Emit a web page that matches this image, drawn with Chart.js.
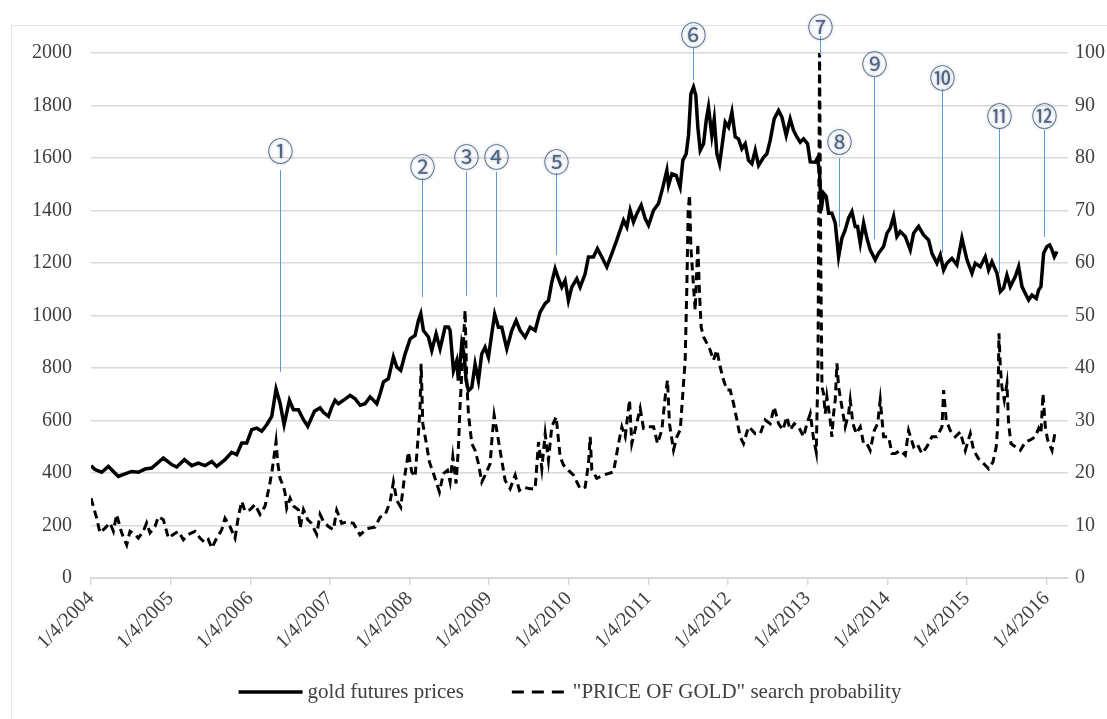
<!DOCTYPE html>
<html>
<head>
<meta charset="utf-8">
<script src="https://cdn.jsdelivr.net/npm/chart.js@4.4.1/dist/chart.umd.min.js"></script>
<style>
  html, body { margin: 0; padding: 0; background: #ffffff; }
  #wrap { position: relative; width: 1107px; height: 719px; }
</style>
</head>
<body>
<div id="wrap"><canvas id="c" width="1107" height="719"></canvas></div>
<script>
// ---------- DATA (x = years since 1/4/2004) ----------
const yearTickLabels = ["1/4/2004","1/4/2005","1/4/2006","1/4/2007","1/4/2008","1/4/2009","1/4/2010","1/4/2011","1/4/2012","1/4/2013","1/4/2014","1/4/2015","1/4/2016"];

const goldT = [
0.000,0.050,0.134,0.218,0.343,0.427,0.511,0.595,0.678,0.762,0.909,1.013,1.076,1.173,1.265,1.348,1.432,1.516,1.579,1.683,
1.767,1.830,1.893,1.956,2.018,2.081,2.144,2.207,2.270,2.324,2.374,2.425,2.492,2.542,2.605,2.668,2.722,2.806,2.877,2.919,
2.982,3.023,3.065,3.107,3.170,3.254,3.317,3.380,3.442,3.505,3.547,3.589,3.631,3.673,3.735,3.798,3.840,3.890,3.945,4.008,
4.070,4.112,4.142,4.175,4.238,4.280,4.334,
4.384,4.447,4.489,4.510,4.552,4.593,4.614,4.656,4.685,4.711,4.740,4.782,4.824,4.866,4.907,4.949,4.991,5.033,5.070,5.117,
5.159,5.222,5.284,5.339,5.389,5.452,5.515,5.578,5.640,5.703,5.745,5.787,5.829,5.871,5.912,5.954,5.996,6.038,6.101,6.143,
6.206,6.247,6.310,6.360,6.415,6.478,6.541,6.603,
6.688,6.730,6.771,6.813,6.855,6.910,6.960,7.002,
7.065,7.127,7.182,7.232,7.253,7.295,7.349,7.399,7.433,7.475,7.504,7.534,7.567,7.596,7.621,7.651,7.693,7.726,7.755,7.797,
7.827,7.860,7.894,7.923,7.965,8.007,8.049,8.091,8.132,8.174,8.216,8.258,8.300,8.342,8.384,8.447,8.488,8.530,8.580,8.635,
8.677,8.731,8.781,8.823,8.865,8.907,8.949,8.999,9.033,9.095,9.125,9.150,9.170,9.200,9.234,9.263,9.305,9.347,9.389,9.430,
9.472,9.514,9.556,9.598,9.627,9.661,9.703,9.745,9.786,9.849,9.891,9.954,9.996,10.038,10.080,10.121,10.163,10.226,10.289,10.331,
10.394,10.456,10.519,10.561,10.624,10.666,10.708,10.749,10.812,10.875,10.938,11.001,11.064,11.105,11.168,11.231,11.273,11.315,11.378,11.420,
11.461,11.503,11.545,11.608,11.650,11.692,11.734,11.776,11.817,11.872,11.901,11.930,11.964,12.006,12.040,12.069,12.098,12.131
];
const goldPrice = [
428,413,403,425,387,397,406,403,415,419,457,432,423,451,428,438,428,444,425,451,
479,470,514,514,565,571,559,584,616,720,667,584,677,641,641,603,578,635,648,631,
616,650,677,664,677,696,683,658,664,690,677,664,702,747,759,842,804,791,854,911,
924,981,1007,943,918,867,930,
873,956,956,943,790,828,752,892,853,752,713,726,815,752,853,879,841,930,1005,955,
955,873,943,981,943,917,955,943,1013,1045,1057,1127,1178,1140,1108,1134,1057,1108,1140,1108,
1159,1223,1223,1255,1223,1185,1236,1287,
1363,1337,1401,1356,1388,1420,1369,1344,
1401,1426,1489,1553,1496,1540,1534,1489,1591,1616,1686,1844,1870,1838,1718,1629,1654,1743,1794,1686,
1749,1616,1578,1641,1737,1718,1775,1680,1673,1635,1654,1591,1578,1629,1572,1603,1616,1667,1749,1781,
1756,1686,1749,1705,1680,1660,1673,1654,1585,1584,1600,1540,1400,1466,1453,1390,1390,1352,1224,1294,
1326,1371,1396,1339,1339,1275,1352,1294,1250,1212,1237,1263,1313,1333,1377,1301,1320,1301,1250,1313,
1339,1307,1288,1237,1199,1231,1173,1199,1218,1193,1294,1212,1161,1199,1186,1224,1173,1205,1161,1091,
1104,1154,1110,1148,1186,1110,1084,1059,1078,1065,1097,1110,1237,1263,1269,1250,1224,1244
];

const searchT = [
0.000,0.071,0.113,0.176,0.239,0.281,0.322,0.385,0.448,0.490,0.553,0.595,0.657,0.699,0.741,0.804,0.846,0.909,0.972,1.034,
1.097,1.160,1.223,1.307,1.369,1.432,1.474,1.516,1.579,1.642,1.683,1.746,1.809,1.851,1.893,1.935,1.997,2.060,2.123,2.186,
2.240,2.270,2.299,2.324,2.345,2.374,2.416,2.437,2.458,2.500,2.542,2.605,2.626,2.668,2.722,2.764,2.835,2.877,2.919,2.982,
3.044,3.086,3.149,3.212,3.296,3.379,3.463,3.568,3.631,3.693,3.756,3.798,3.840,3.890,3.932,3.987,4.028,4.070,4.112,4.133,
4.146,4.167,4.209,4.250,4.301,4.376,4.426,4.477,4.510,4.544,4.585,4.615,4.636,4.657,4.698,4.719,4.740,4.782,4.824,4.866,
4.908,4.950,5.013,5.034,5.063,5.117,5.159,5.201,5.264,5.327,5.381,5.431,5.515,5.578,5.620,5.662,5.704,5.745,5.787,5.842,
5.892,5.934,5.997,6.060,6.143,6.206,6.248,6.269,6.290,6.353,6.436,6.562,6.625,6.667,6.709,6.763,6.792,6.834,6.897,6.939,
7.002,7.065,7.115,7.169,7.211,7.240,7.265,7.316,7.358,7.400,7.433,7.462,7.483,7.500,7.517,7.534,7.559,7.588,7.621,7.642,
7.663,7.693,7.735,7.776,7.818,7.860,7.902,7.944,7.986,8.028,8.070,8.112,8.153,8.195,8.258,8.300,8.342,8.405,8.467,8.530,
8.580,8.635,8.689,8.739,8.781,8.832,8.886,8.949,8.991,9.033,9.074,9.108,9.130,9.150,9.165,9.180,9.200,9.221,9.242,9.284,
9.305,9.326,9.347,9.368,9.389,9.430,9.472,9.514,9.535,9.569,9.610,9.661,9.703,9.745,9.786,9.837,9.879,9.912,9.954,10.017,
10.059,10.100,10.163,10.226,10.268,10.331,10.373,10.436,10.498,10.561,10.624,10.687,10.708,10.741,10.791,10.854,10.917,10.980,11.043,11.085,
11.147,11.210,11.273,11.327,11.369,11.386,11.403,11.420,11.440,11.470,11.503,11.524,11.554,11.608,11.671,11.734,11.797,11.859,11.901,11.930,
11.956,11.985,12.014,12.069,12.111
];
const searchProb = [
15.2,11.4,8.6,9.5,10.5,8.9,12.1,8.6,6.3,8.9,8.3,7.6,8.9,10.5,8.6,9.8,11.7,11.1,7.6,8.3,
8.9,7.3,8.3,8.9,7.6,6.7,7.3,5.7,7.6,9.2,11.4,9.8,7.6,11.7,14.6,12.7,13.0,14.0,12.1,13.7,
17.5,20.0,23.2,26.0,21.9,19.0,17.5,16.2,13.3,15.2,13.7,13.0,9.5,13.0,11.1,10.5,8.3,12.1,10.8,9.8,
9.2,12.9,10.4,10.7,10.4,8.2,9.4,9.7,11.6,12.0,14.5,18.3,14.8,13.5,18.6,24.0,20.2,19.3,27.5,32.6,
40.8,29.4,25.9,22.1,19.9,16.4,19.9,20.5,18.3,23.1,18.0,25.0,33.2,38.9,51.0,37.6,31.3,25.6,24.3,21.8,
18.3,19.6,21.8,26.2,31.0,26.2,22.4,18.6,17.0,19.6,16.7,17.3,17.0,17.0,25.9,20.8,27.5,22.4,28.8,30.7,
23.1,21.5,20.5,19.6,17.0,17.3,21.8,26.9,20.6,19.0,19.6,20.2,25.6,28.8,26.9,33.9,25.6,28.2,32.3,28.5,
28.8,28.8,25.6,28.2,34.5,37.7,29.4,24.4,26.9,28.2,35.2,41.5,55.4,70.0,73.0,63.0,57.3,51.0,63.7,54.2,
47.8,45.9,44.7,43.4,41.5,43.4,40.2,37.7,35.8,35.8,33.2,30.1,26.9,25.6,28.8,28.2,27.5,27.5,30.1,29.4,
32.6,29.4,28.2,30.7,28.2,29.4,28.8,26.9,29.4,31.3,26.6,24.0,40.0,100.0,60.0,36.4,35.1,31.3,34.5,30.0,
26.9,31.3,33.9,40.9,36.4,32.6,28.8,31.3,33.9,29.4,27.5,28.8,25.6,25.6,24.3,28.1,29.4,33.9,26.9,26.9,
23.7,23.7,24.3,23.4,28.1,25.0,25.6,23.7,25.0,26.9,26.9,28.8,35.8,30.0,28.1,26.9,27.8,24.3,27.5,24.3,
22.7,21.8,20.8,22.1,25.0,28.8,46.6,40.3,36.4,33.9,37.0,29.4,25.6,25.0,24.3,25.9,26.3,26.9,28.5,27.5,
35.1,28.8,26.3,24.3,28.1
];

// Event markers: x in years since 1/4/2004, label/line-ends in left-axis (price) units
const eventLabels = ["①","②","③","④","⑤","⑥","⑦","⑧","⑨","⑩","⑪","⑫"];
const eventT      = [2.374,4.154,4.711,5.092,5.835,7.563,9.158,9.391,9.837,10.690,11.407,11.970];
const eventLabelV = [1627,1566,1604,1604,1585,2069,2099,1662,1958,1905,1760,1760];
const eventTopV   = [1554,1524,1547,1547,1543,2019,2065,1600,1909,1863,1714,1707];
const eventBotV   = [785,1070,1074,1070,1230,1897,1992,1337,1291,1238,1162,1299];

const seriesNames = ["gold futures prices", "\"PRICE OF GOLD\" search probability"];

// ---------- BUILD ----------
const goldData = goldT.map((t, i) => ({ x: t, y: goldPrice[i] }));
const searchData = searchT.map((t, i) => ({ x: t, y: searchProb[i] }));

const FONT = "'Liberation Serif', 'Times New Roman', serif";
const TXT = '#404040';

const frame = {
  id: 'frame',
  beforeDraw(chart) {
    const ctx = chart.ctx;
    ctx.save();
    ctx.strokeStyle = '#dde7f2';
    ctx.lineWidth = 1;
    ctx.strokeRect(11.5, 25.5, 1200, 800);
    ctx.restore();
  }
};

const events = {
  id: 'events',
  afterDatasetsDraw(chart) {
    const ctx = chart.ctx;
    const xs = chart.scales.x, ys = chart.scales.y;
    ctx.save();
    for (let i = 0; i < eventT.length; i++) {
      const px = Math.round(xs.getPixelForValue(eventT[i])) + 0.5;
      ctx.strokeStyle = '#5b9bd5';
      ctx.lineWidth = 1;
      ctx.beginPath();
      ctx.moveTo(px, ys.getPixelForValue(eventTopV[i]));
      ctx.lineTo(px, ys.getPixelForValue(eventBotV[i]));
      ctx.stroke();
      const cy = ys.getPixelForValue(eventLabelV[i]);
      ctx.font = "26px 'Noto Sans CJK SC'";
      ctx.textAlign = 'center';
      ctx.textBaseline = 'middle';
      ctx.shadowColor = 'rgba(110,130,160,0.7)';
      ctx.shadowBlur = 3;
      ctx.fillStyle = '#4e6482';
      ctx.fillText(eventLabels[i], px, cy);
      ctx.shadowBlur = 0;
    }
    ctx.restore();
  }
};

// Custom legend (real canvas text), drawn from the datasets' own styles
const bottomLegend = {
  id: 'bottomLegend',
  afterDraw(chart) {
    const ctx = chart.ctx;
    const ds = chart.data.datasets;
    const y = 692;
    const lineW = [64, 56];
    const gapText = 5, gapItem = 48;
    ctx.save();
    ctx.font = "21px " + FONT;
    const tw = ds.map(d => ctx.measureText(d.label).width);
    const total = lineW[0] + gapText + tw[0] + gapItem + lineW[1] + gapText + tw[1];
    let x = 570 - total / 2;
    ds.forEach((d, i) => {
      ctx.strokeStyle = d.borderColor;
      ctx.lineWidth = d.borderWidth;
      ctx.setLineDash(d.borderDash ? [12, 8] : []);
      ctx.beginPath();
      ctx.moveTo(x, y);
      ctx.lineTo(x + lineW[i], y);
      ctx.stroke();
      x += lineW[i] + gapText;
      ctx.setLineDash([]);
      ctx.fillStyle = TXT;
      ctx.textAlign = 'left';
      ctx.textBaseline = 'middle';
      ctx.fillText(d.label, x, y);
      x += tw[i] + gapItem;
    });
    ctx.restore();
  }
};

new Chart(document.getElementById('c'), {
  type: 'line',
  data: {
    datasets: [
      {
        label: seriesNames[0],
        data: goldData,
        yAxisID: 'y',
        borderColor: '#000000',
        backgroundColor: '#000000',
        borderWidth: 3.5,
        pointRadius: 0,
        tension: 0
      },
      {
        label: seriesNames[1],
        data: searchData,
        yAxisID: 'y1',
        borderColor: '#000000',
        backgroundColor: '#000000',
        borderWidth: 3,
        borderDash: [8, 5],
        pointRadius: 0,
        tension: 0
      }
    ]
  },
  options: {
    responsive: false,
    animation: false,
    events: [],
    layout: { padding: { top: 53, left: 0, right: 0, bottom: 0 } },
    plugins: {
      tooltip: { enabled: false },
      legend: { display: false }
    },
    scales: {
      x: {
        type: 'linear',
        min: 0,
        max: 12.27,
        afterFit(scale) { scale.height = 141; },
        border: { display: true, color: '#d9d9d9', width: 2 },
        grid: { drawOnChartArea: false, drawTicks: true, tickLength: 7, color: '#d9d9d9', lineWidth: 1.5 },
        ticks: {
          stepSize: 1,
          includeBounds: false,
          autoSkip: false,
          maxRotation: 45,
          minRotation: 45,
          padding: 2,
          color: TXT,
          font: { family: FONT, size: 20 },
          callback: (v) => yearTickLabels[Math.round(v)] || ''
        }
      },
      y: {
        position: 'left',
        min: 0,
        max: 2000,
        afterFit(scale) { scale.width = 91; },
        border: { display: false },
        grid: { color: '#d9d9d9', lineWidth: 1.5, drawTicks: false },
        ticks: { stepSize: 200, padding: 19, color: TXT, font: { family: FONT, size: 20 }, callback: (v) => String(v) }
      },
      y1: {
        position: 'right',
        min: 0,
        max: 100,
        afterFit(scale) { scale.width = 39; },
        border: { display: false },
        grid: { drawOnChartArea: false, drawTicks: false },
        ticks: { stepSize: 10, padding: 7, color: TXT, font: { family: FONT, size: 20 }, callback: (v) => String(v) }
      }
    }
  },
  plugins: [frame, events, bottomLegend]
});
</script>
</body>
</html>
